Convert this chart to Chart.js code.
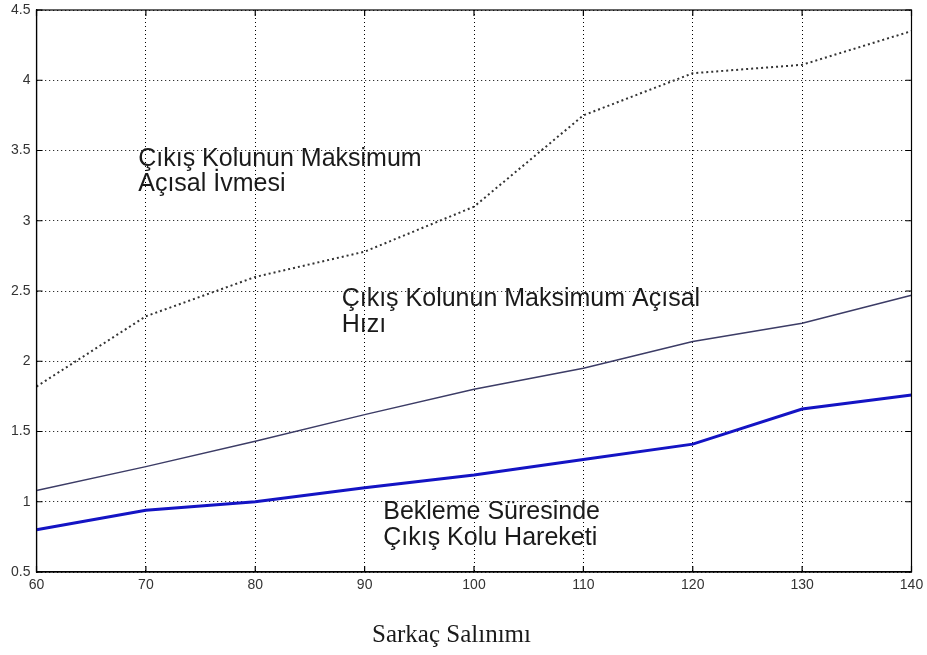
<!DOCTYPE html>
<html>
<head>
<meta charset="utf-8">
<title>Sarkaç Salınımı</title>
<script src="https://cdn.jsdelivr.net/npm/chart.js@4"></script>
<style>
  html, body { margin: 0; padding: 0; background: #fff; }
  canvas { display: block; }
</style>
</head>
<body>
<canvas id="chart" width="927" height="655"></canvas>
<script>
// Sarkaç salınımına göre çıkış kolu büyüklükleri
const salinim = [60, 70, 80, 90, 100, 110, 120, 130, 140];
const maxIvme = [1.82, 2.32, 2.60, 2.78, 3.10, 3.75, 4.05, 4.11, 4.35];
const maxHiz = [1.08, 1.25, 1.43, 1.62, 1.80, 1.95, 2.14, 2.27, 2.47];
const beklemeHareketi = [0.80, 0.94, 1.00, 1.10, 1.19, 1.30, 1.41, 1.66, 1.76];

const xTicks = [60, 70, 80, 90, 100, 110, 120, 130, 140];
const yTicks = [0.5, 1, 1.5, 2, 2.5, 3, 3.5, 4, 4.5];

// Eğri etiketleri (veri koordinatlarında ilk satırın sol taban noktası)
const etiketler = [
  { x: 69.3, y: 3.39, satirlar: ["Çıkış Kolunun Maksimum", "Açısal İvmesi"] },
  { x: 87.9, y: 2.39, satirlar: ["Çıkış Kolunun Maksimum Açısal", "Hızı"] },
  { x: 91.7, y: 0.877, satirlar: ["Bekleme Süresinde", "Çıkış Kolu Hareketi"] }
];
const xBaslik = "Sarkaç Salınımı";

const tickFont = { family: "Liberation Sans, Arial, sans-serif", size: 14 };

// Kutu çerçevesi, içe dönük tik çizgileri ve metinler
const cercevePlugin = {
  id: "cerceve",
  afterDraw(chart) {
    const { ctx, chartArea: a, scales } = chart;
    ctx.save();
    ctx.strokeStyle = "#000";
    ctx.lineWidth = 1.2;
    ctx.strokeRect(a.left, a.top, a.right - a.left, a.bottom - a.top);

    ctx.beginPath();
    xTicks.forEach((v) => {
      const px = scales.x.getPixelForValue(v);
      ctx.moveTo(px, a.bottom); ctx.lineTo(px, a.bottom - 6);
      ctx.moveTo(px, a.top); ctx.lineTo(px, a.top + 6);
    });
    yTicks.forEach((v) => {
      const py = scales.y.getPixelForValue(v);
      ctx.moveTo(a.left, py); ctx.lineTo(a.left + 6, py);
      ctx.moveTo(a.right, py); ctx.lineTo(a.right - 6, py);
    });
    ctx.stroke();

    ctx.fillStyle = "#1a1a1a";
    ctx.font = "25px 'Liberation Sans', Arial, sans-serif";
    ctx.textAlign = "left";
    ctx.textBaseline = "alphabetic";
    etiketler.forEach((e) => {
      const px = scales.x.getPixelForValue(e.x);
      const py = scales.y.getPixelForValue(e.y);
      e.satirlar.forEach((s, i) => ctx.fillText(s, px, py + i * 25.5));
    });

    ctx.font = "25px 'Liberation Serif', 'Times New Roman', serif";
    ctx.textAlign = "center";
    ctx.fillText(xBaslik, 451.5, 642);
    ctx.restore();
  }
};

new Chart(document.getElementById("chart"), {
  type: "line",
  data: {
    datasets: [
      {
        data: salinim.map((x, i) => ({ x, y: maxIvme[i] })),
        borderColor: "#333",
        borderWidth: 2,
        borderDash: [2, 3],
        pointRadius: 0,
        tension: 0
      },
      {
        data: salinim.map((x, i) => ({ x, y: maxHiz[i] })),
        borderColor: "#3c3c66",
        borderWidth: 1.5,
        pointRadius: 0,
        tension: 0
      },
      {
        data: salinim.map((x, i) => ({ x, y: beklemeHareketi[i] })),
        borderColor: "#1414c4",
        borderWidth: 3,
        pointRadius: 0,
        tension: 0
      }
    ]
  },
  options: {
    responsive: false,
    animation: false,
    layout: { padding: { top: 10, right: 15.5, left: 0, bottom: 0 } },
    plugins: { legend: { display: false }, tooltip: { enabled: false } },
    scales: {
      x: {
        type: "linear",
        min: 60,
        max: 140,
        afterBuildTicks: (s) => { s.ticks = xTicks.map((v) => ({ value: v })); },
        afterFit: (s) => {
          s.height = 83;
          s.paddingLeft = 0;
          s.paddingRight = 0;
        },
        grid: { color: "#000", lineWidth: 1, drawTicks: false },
        border: { color: "#000", width: 1.2, dash: [1, 3] },
        ticks: { color: "#333", font: tickFont, padding: 5, maxRotation: 0 }
      },
      y: {
        type: "linear",
        min: 0.5,
        max: 4.5,
        afterBuildTicks: (s) => { s.ticks = yTicks.map((v) => ({ value: v })); },
        afterFit: (s) => {
          s.width = 36.5;
          s.paddingTop = 0;
          s.paddingBottom = 0;
        },
        grid: { color: "#000", lineWidth: 1, drawTicks: false },
        border: { color: "#000", width: 1.2, dash: [1, 3] },
        ticks: { color: "#333", font: tickFont, padding: 6, callback: (v) => String(v) }
      }
    }
  },
  plugins: [cercevePlugin]
});
</script>
</body>
</html>
